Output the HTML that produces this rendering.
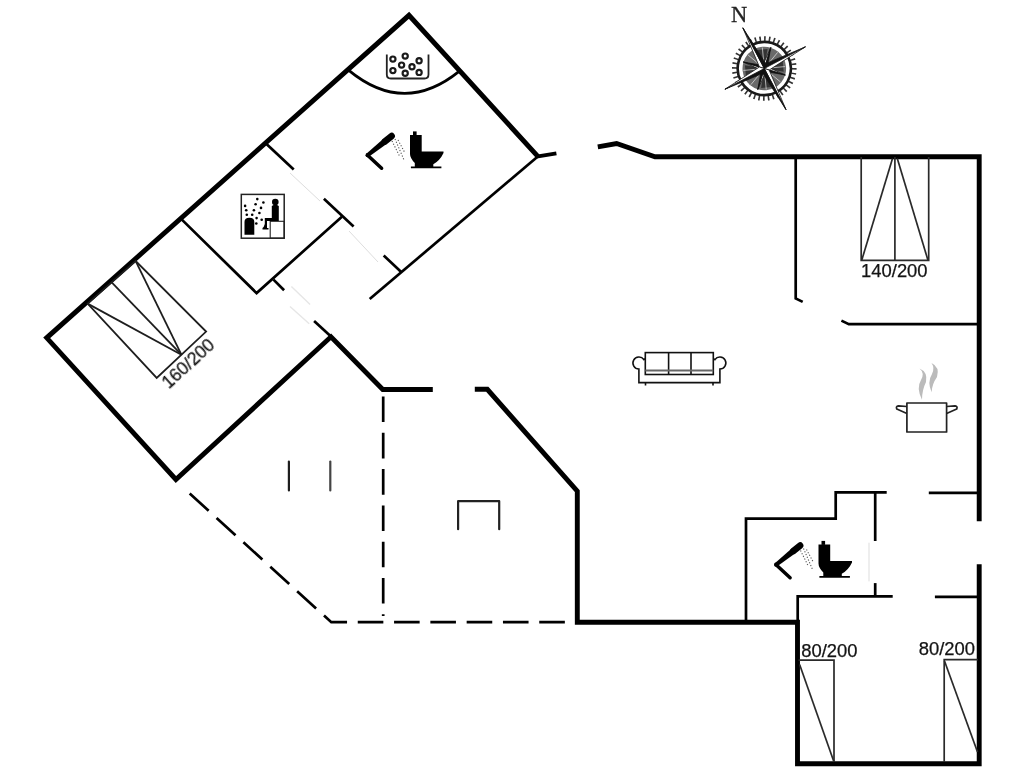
<!DOCTYPE html>
<html><head><meta charset="utf-8">
<style>
html,body{margin:0;padding:0;background:#fff;width:1024px;height:768px;overflow:hidden}
svg{display:block}
text{font-family:"Liberation Sans",sans-serif}
</style></head>
<body>
<svg width="1024" height="768" viewBox="0 0 1024 768">
<rect width="1024" height="768" fill="#fff"/>
<!-- thick walls -->
<g fill="none" stroke="#000" stroke-width="4.9" stroke-linejoin="miter" stroke-linecap="butt">
<line x1="556.4" y1="153.3" x2="536.5" y2="156.6" stroke-width="3.9"/>
<polyline points="537.8,156.4 409,15.3 46.7,337.8 175.9,479.5 331,336.8 382.8,389.5 432.8,389.5"/>
<polyline points="474.8,389.3 487.3,389.3 577.3,491.2 577.3,622.3 797.5,622.3 797.5,763.8 979.2,763.8 979.2,564.2"/>
<polyline points="979.2,521.3 979.2,156.7 655,156.7 616.6,143.5 597.8,146.8"/>
</g>
<!-- thin walls -->
<g fill="none" stroke="#000" stroke-width="2.7" stroke-linecap="butt">
<polyline points="181.6,219.4 256.6,293.1 341.9,216.7"/>
<line x1="266.2" y1="143.7" x2="293.7" y2="169.4"/>
<line x1="323.9" y1="198.7" x2="353.6" y2="226.5"/>
<line x1="383.7" y1="255.6" x2="401.2" y2="271.9"/>
<line x1="273.5" y1="279.6" x2="284.1" y2="290.2"/>
<line x1="314.1" y1="320.9" x2="331" y2="336.5"/>
<line x1="369.7" y1="299" x2="537.8" y2="156.5"/>
<path d="M348.5,70.1 Q404,116 459.1,71.4"/>
<polyline points="795.7,156.7 795.7,298.4 802.7,301.9"/>
<polyline points="841.4,320.6 848.8,324.1 979,324.1"/>
<polyline points="886.7,492.4 835.7,492.4 835.7,518.7 746,518.7 746,622"/>
<line x1="875.2" y1="492.4" x2="875.2" y2="541"/>
<line x1="875.2" y1="583.1" x2="875.2" y2="596.5"/>
<polyline points="892.7,596.4 797.7,596.4 797.7,622"/>
<line x1="928.8" y1="492.9" x2="979" y2="492.9"/>
<line x1="934.9" y1="596.9" x2="979" y2="596.9"/>
<g stroke-width="2.2" stroke-linecap="round" stroke-linejoin="round">
<line x1="288.9" y1="461.5" x2="288.9" y2="490.4" stroke="#1e1e1e"/>
<line x1="330.3" y1="461.5" x2="330.3" y2="490.4" stroke="#444"/>
<polyline points="458.1,529.2 458.1,501.2 499.2,501.2 499.2,529.2" stroke="#222"/>
</g>
</g>
<!-- dashed -->
<g fill="none" stroke="#000" stroke-width="2.7" stroke-dasharray="25.6 10.7">
<line x1="383.2" y1="396.5" x2="383.2" y2="616"/>
<polyline points="189.7,493.5 331.3,622.2 570,622.2"/>
</g>
<!-- faint door lines -->
<g fill="none" stroke="#ddd" stroke-width="1">
<line x1="290" y1="173" x2="320" y2="201"/>
<line x1="349" y1="231" x2="378" y2="262"/>
<line x1="291.4" y1="286.4" x2="310.1" y2="304.6" stroke="#e6e6e6" stroke-width="1.4"/>
<line x1="290" y1="306.5" x2="309.2" y2="323.8" stroke="#e6e6e6" stroke-width="1.4"/>
<line x1="869" y1="542.7" x2="869" y2="581.4"/>
</g>
<!-- beds -->
<g fill="none" stroke="#2a2a2a" stroke-width="1.7">
<polyline points="861.2,157 861.2,260.3 928.7,260.3 928.7,157"/>
<line x1="894.9" y1="157" x2="894.9" y2="260.3"/>
<line x1="892.5" y1="158.5" x2="861.8" y2="260"/>
<line x1="897.3" y1="158.5" x2="927.9" y2="260"/>
<polyline points="798.5,660.2 834,660.2 834,762"/>
<line x1="799.6" y1="664.5" x2="834" y2="762"/>
<polyline points="978,659.6 944.2,659.6 944.2,762"/>
<line x1="944.5" y1="661" x2="977.5" y2="752"/>
</g>
<g fill="none" stroke="#1e1e1e" stroke-width="1.8">
<polygon points="87.6,303.6 135.7,261.1 206.1,331.6 156.7,377.9"/>
<line x1="111.7" y1="282.3" x2="181.4" y2="354.7"/>
<line x1="87.6" y1="303.6" x2="181.4" y2="354.7"/>
<line x1="135.7" y1="261.1" x2="181.4" y2="354.7"/>
</g>
<!-- text -->
<g font-size="18.4" fill="#111" stroke="#111" stroke-width="0.25" style="opacity:0.99">
<text x="861.1" y="277.2">140/200</text>
<text x="801.2" y="656.5">80/200</text>
<text x="918.7" y="654.8">80/200</text>
<text transform="translate(168.8,389.4) rotate(-42.3)" font-size="17.6">160/200</text>
</g>

<!-- sofa -->
<g fill="none" stroke="#111" stroke-width="1.6">
<rect x="645.3" y="352.6" width="68" height="21.9"/>
<line x1="668.6" y1="352.6" x2="668.6" y2="374.5"/>
<line x1="691" y1="352.6" x2="691" y2="374.5"/>
<line x1="645.3" y1="370.6" x2="713.3" y2="370.6" stroke="#666" stroke-width="2"/>
<path d="M645.3,358.8 L643.9,359.6 A6,6 0 1 0 638.9,369 V382.6 H719.9 V369 A6,6 0 1 0 714.9,359.6 L713.3,358.8"/>
<line x1="645.5" y1="382.6" x2="645.5" y2="385.5"/>
<line x1="713" y1="382.6" x2="713" y2="385.5"/>
</g>
<!-- pot -->
<g fill="none" stroke="#222" stroke-width="1.7" stroke-linejoin="round">
<rect x="906.9" y="403" width="39.7" height="29"/>
<path d="M906.9,406.5 L898.5,405.8 Q895.5,406.5 896.8,409 L906.9,413.5"/>
<path d="M946.6,406.5 L955,405.8 Q958,406.5 956.7,409 L946.6,413.5"/>
</g>
<g fill="#bbb">
<path d="M922,399.8 Q916,388 921,380 Q925,373 919.5,368.5 Q928,372 926,382 Q922,390 922,399.8 Z"/>
<path d="M931.6,392.3 Q927,382 932,374 Q935,368 931.5,363 Q940,367 937,377 Q932,384 931.6,392.3 Z"/>
</g>
<!-- jacuzzi -->
<g fill="none" stroke="#222" stroke-width="1.8">
<path d="M386.8,54.5 V74.5 Q386.8,78.5 390.8,78.5 H424.5 Q428.5,78.5 428.5,74.5 V54.5"/>
</g>
<g fill="none" stroke="#1a1a1a" stroke-width="2.2">
<circle cx="392.9" cy="59.1" r="2.6"/>
<circle cx="405.2" cy="56.1" r="2.6"/>
<circle cx="419.1" cy="60.8" r="2.6"/>
<circle cx="401.6" cy="65.1" r="2.6"/>
<circle cx="412" cy="66.8" r="2.6"/>
<circle cx="392.9" cy="70.6" r="2.6"/>
<circle cx="405.2" cy="73.3" r="2.6"/>
<circle cx="419.1" cy="72.4" r="2.6"/>
</g>
<!-- toilet + shower -->
<g id="wc">
<path fill="#000" d="M410,135 H421.7 V151.4 H443.5 V153 Q440,160.5 433.3,164.3 V166.4 H441.4 V168.2 H410.9 V166.4 H414.8 V163.1 Q410,158 410,154 Z"/>
<rect x="413" y="131.4" width="3.6" height="4" fill="#000"/>
<path fill="none" stroke="#000" stroke-width="3.5" stroke-linecap="round" stroke-linejoin="round" d="M381.6,168.2 L367.6,155.2"/>
<circle cx="367.6" cy="155.2" r="2.1" fill="#000"/>
<polygon fill="#000" points="368.85,156.76 386.87,143.64 383.13,138.96 366.35,153.64"/>
<line x1="385" y1="141.3" x2="391.6" y2="136.1" stroke="#000" stroke-width="6.6" stroke-linecap="round"/>
<g stroke="#555" stroke-width="1.1" stroke-dasharray="1.2 1.8">
<line x1="392" y1="141" x2="400" y2="157"/>
<line x1="395" y1="139" x2="404" y2="160"/>
<line x1="398" y1="140" x2="405" y2="153"/>
</g>
</g>
<use href="#wc" transform="translate(408.5,409.5)"/>
<!-- sauna -->
<g>
<rect x="241.3" y="194.4" width="42.9" height="43.8" fill="none" stroke="#222" stroke-width="1.5"/>
<rect x="270.2" y="221.3" width="14" height="16.9" fill="none" stroke="#222" stroke-width="1.1"/>
<path fill="#000" d="M244.5,234.7 V222 Q244.5,217.8 249.4,217.8 Q254.3,217.8 254.3,222 V234.7 Z"/>
<circle cx="275.3" cy="202" r="3.3" fill="#000"/>
<path fill="#000" d="M271.8,206 Q275.3,203.5 278.8,206 V221 H267 V228 H268.5 V229.6 H262.5 V228 Q264,227 264.8,224 V218 H271.8 Z"/>
<g fill="#000">
<circle cx="257.3" cy="199.1" r="1.3"/><circle cx="263.4" cy="202.5" r="1.3"/><circle cx="245.1" cy="205.9" r="1.3"/>
<circle cx="255.6" cy="204.2" r="1.3"/><circle cx="261" cy="207.9" r="1.3"/><circle cx="246.2" cy="210.3" r="1.3"/>
<circle cx="253.9" cy="210.3" r="1.3"/><circle cx="259.4" cy="213" r="1.3"/><circle cx="246.8" cy="214.7" r="1.3"/>
<circle cx="252.2" cy="214.7" r="1.3"/><circle cx="256.6" cy="218.1" r="1.3"/><circle cx="261.7" cy="219.8" r="1.3"/>
<circle cx="256.3" cy="223.5" r="1.3"/>
</g>
</g>
<!-- compass -->
<text x="731" y="22" style="font-family:'Liberation Serif',serif;font-size:22.5px;opacity:0.99" fill="#222" stroke="#222" stroke-width="0.3">N</text>
<g transform="translate(764.3,68.5) rotate(-27.8)">
<circle r="29.8" fill="none" stroke="#333" stroke-width="5" stroke-dasharray="1.6 3.08"/>
<circle r="26.6" fill="#fff" stroke="#1a1a1a" stroke-width="2.6"/>
<circle r="21.8" fill="#6a6a6a"/>
<g fill="#333">
<path d="M0,0 L-5,-19 L5,-19 Z" transform="rotate(22.5)"/>
<path d="M0,0 L-5,-19 L5,-19 Z" transform="rotate(112.5)"/>
<path d="M0,0 L-5,-19 L5,-19 Z" transform="rotate(202.5)"/>
<path d="M0,0 L-5,-19 L5,-19 Z" transform="rotate(292.5)"/>
</g>
<g stroke="#ddd" stroke-width="0.7">
<line x1="0" y1="-21" x2="0" y2="21" transform="rotate(22.5)"/>
<line x1="0" y1="-21" x2="0" y2="21" transform="rotate(67.5)"/>
<line x1="0" y1="-21" x2="0" y2="21" transform="rotate(112.5)"/>
<line x1="0" y1="-21" x2="0" y2="21" transform="rotate(157.5)"/>
</g>
<g stroke="#111" stroke-width="0.7" stroke-linejoin="miter">
<g transform="rotate(45)"><path d="M0,0 L0,-22 L-2.4,-2.4 Z" fill="#eee"/><path d="M0,0 L0,-22 L2.4,-2.4 Z" fill="#111"/></g>
<g transform="rotate(135)"><path d="M0,0 L0,-22 L-2.4,-2.4 Z" fill="#eee"/><path d="M0,0 L0,-22 L2.4,-2.4 Z" fill="#111"/></g>
<g transform="rotate(225)"><path d="M0,0 L0,-22 L-2.4,-2.4 Z" fill="#eee"/><path d="M0,0 L0,-22 L2.4,-2.4 Z" fill="#111"/></g>
<g transform="rotate(315)"><path d="M0,0 L0,-22 L-2.4,-2.4 Z" fill="#eee"/><path d="M0,0 L0,-22 L2.4,-2.4 Z" fill="#111"/></g>
<g><path d="M0,0 L0,-46 L-3.6,-3.6 Z" fill="#fff"/><path d="M0,0 L0,-46 L3.6,-3.6 Z" fill="#111"/></g>
<g transform="rotate(90)"><path d="M0,0 L0,-46.5 L-3.6,-3.6 Z" fill="#111"/><path d="M0,0 L0,-46.5 L3.6,-3.6 Z" fill="#fff"/></g>
<g transform="rotate(180)"><path d="M0,0 L0,-46.5 L-3.6,-3.6 Z" fill="#fff"/><path d="M0,0 L0,-46.5 L3.6,-3.6 Z" fill="#111"/></g>
<g transform="rotate(270)"><path d="M0,0 L0,-44.5 L-3.6,-3.6 Z" fill="#111"/><path d="M0,0 L0,-44.5 L3.6,-3.6 Z" fill="#fff"/></g>
</g>
</g>
</svg>
</body></html>
